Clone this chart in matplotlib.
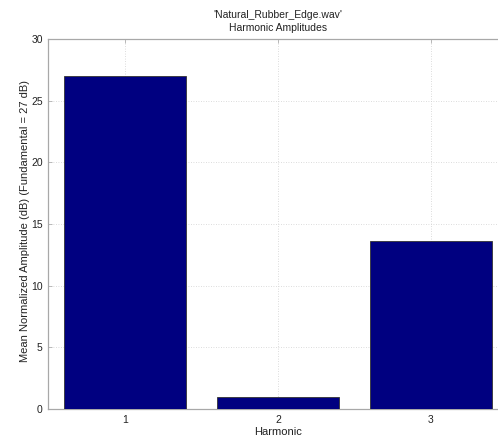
import matplotlib
matplotlib.use("Agg")
import matplotlib.pyplot as plt

plt.rcParams['font.family'] = ['Liberation Sans', 'DejaVu Sans']

harmonics = [1, 2, 3]
amplitudes = [27.0, 1.0, 13.6]
yticks = [0, 5, 10, 15, 20, 25, 30]

fig = plt.figure(figsize=(4.98, 4.40), dpi=100)
# the plot box runs slightly past the right edge of the canvas
ax = fig.add_axes([0.097, 0.0705, 0.922, 0.841])

ax.bar(harmonics, amplitudes, width=0.8, color='#000080',
       edgecolor='#333333', linewidth=0.6, zorder=3)

ax.set_xlim(0.5, 3.5)
ax.set_ylim(0, 30)
ax.set_xticks(harmonics)
ax.set_yticks(yticks)
ax.tick_params(axis='both', labelsize=7.5, colors='#b0b0b0', labelcolor='#222222',
               direction='in', length=3, width=0.6, pad=4,
               top=True, right=False)
ax.grid(True, linestyle=(0, (1, 2)), color='#d0d0d0', linewidth=0.6, zorder=0)

for side in ['left', 'bottom', 'top']:
    ax.spines[side].set_color('#a8a8a8')
    ax.spines[side].set_linewidth(0.9)
ax.spines['right'].set_visible(False)

ax.set_xlabel('Harmonic', fontsize=8, color='#222222', labelpad=2)
ax.set_ylabel('Mean Normalized Amplitude (dB) (Fundamental = 27 dB)',
              fontsize=8.0, color='#222222')
ax.yaxis.set_label_coords(-0.040, 0.509)
ax.set_title("'Natural_Rubber_Edge.wav'\nHarmonic Amplitudes",
             fontsize=7.5, color='#222222', pad=6, linespacing=1.3)

fig.savefig('out.png', dpi=100)
